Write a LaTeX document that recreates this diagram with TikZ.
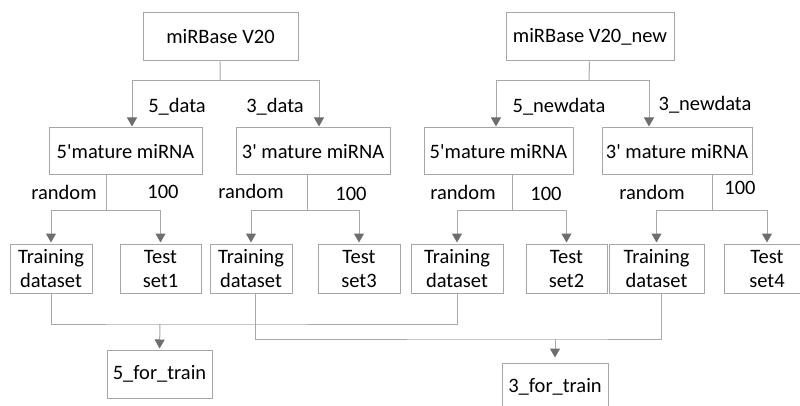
\documentclass[tikz,border=0pt]{standalone}
\usepackage{fontspec}
\setmainfont{Carlito}
\usepackage{tikz}
\usetikzlibrary{arrows.meta}
\definecolor{boxgray}{HTML}{A6A6A6}
\definecolor{linegray}{HTML}{A8A8A8}
\definecolor{headgray}{HTML}{6E6E6E}
\tikzset{
    box/.style={draw=boxgray, line width=1pt, inner sep=0pt, align=center,
      minimum height=48pt, font=\fontsize{20.5}{24}\selectfont},
    lbl/.style={inner sep=0pt, font=\fontsize{20.5}{24}\selectfont},
    line/.style={draw=linegray, line width=1pt},
    arr/.style={line, shorten >=1pt,
      -{Triangle[width=10pt,length=9pt,color=headgray,fill=headgray]}}
}
\begin{document}
\begin{tikzpicture}[x=1pt, y=-1pt]
    \useasboundingbox (0,0) rectangle (800,406);
    \clip (0,0) rectangle (800,406);

    \node[box, minimum width=155pt] (v20) at (220.5,37) {miRBase V20};
    \node[box, minimum width=168pt] (v20n) at (590,37) {miRBase V20\_new};

    \node[box, minimum width=153pt, minimum height=47pt] (m5) at (125.5,151.5) {5\textquotesingle mature miRNA};
    \node[box, minimum width=154pt, minimum height=47pt] (m3) at (313,151.5) {3\textquotesingle{} mature miRNA};
    \node[box, minimum width=149pt, minimum height=47pt] (m5n) at (498.5,151.5) {5\textquotesingle mature miRNA};
    \node[box, minimum width=150pt, minimum height=47pt] (m3n) at (677,151.5) {3\textquotesingle{} mature miRNA};

    \node[box, minimum width=82pt, minimum height=49pt] (tr1) at (51,268.5) {Training\\dataset};
    \node[box, minimum width=81pt, minimum height=49pt] (ts1) at (160.5,268.5) {Test\\set1};
    \node[box, minimum width=82pt, minimum height=49pt] (tr2) at (251,268.5) {Training\\dataset};
    \node[box, minimum width=82pt, minimum height=49pt] (ts3) at (359,268.5) {Test\\set3};
    \node[box, minimum width=92pt, minimum height=49pt] (tr3) at (457,268.5) {Training\\dataset};
    \node[box, minimum width=81pt, minimum height=49pt] (ts2) at (566.5,268.5) {Test\\set2};
    \node[box, minimum width=95pt, minimum height=49pt] (tr4) at (656.5,268.5) {Training\\dataset};
    \node[box, minimum width=86pt, minimum height=49pt] (ts4) at (767,268.5) {Test\\set4};

    \node[box, minimum width=105pt] (f5) at (159.5,374) {5\_for\_train};
    \node[box, minimum width=106pt] (f3) at (555,387) {3\_for\_train};

    \node[lbl] (d5) at (177,107) {5\_data};
    \node[lbl] (d3) at (275,107) {3\_data};
    \node[lbl] (d5n) at (559,107) {5\_newdata};
    \node[lbl] (d3n) at (705,105) {3\_newdata};

    \node[lbl] (rd1) at (64,192) {random};
    \node[lbl] (hd1) at (163,192) {100};
    \node[lbl] (rd2) at (251,191) {random};
    \node[lbl] (hd2) at (351,194) {100};
    \node[lbl] (rd3) at (463,192) {random};
    \node[lbl] (hd3) at (546,194) {100};
    \node[lbl] (rd4) at (652,192) {random};
    \node[lbl] (hd4) at (740,188) {100};

    \coordinate (a1) at (220,81);
    \coordinate (a2) at (589,81);
    \draw[line] (v20) -- (a1);
    \draw[arr] (a1) -| ([xshift=6.5pt]m5.north);
    \draw[arr] (a1) -| ([xshift=6pt]m3.north);
    \draw[line] (v20n) -- (a2);
    \draw[arr] (a2) -| ([xshift=-2.5pt]m5n.north);
    \draw[arr] (a2) -| ([xshift=-28pt]m3n.north);

    \coordinate (r1) at (106,210);
    \coordinate (r2) at (307,210);
    \coordinate (r3) at (512,210);
    \coordinate (r4) at (712,210);
    \draw[line] (r1 |- m5.south) -- (r1);
    \draw[arr] (r1) -| (tr1.north);
    \draw[arr] (r1) -| (ts1.north);
    \draw[line] (r2 |- m3.south) -- (r2);
    \draw[arr] (r2) -| (tr2.north);
    \draw[arr] (r2) -| (ts3.north);
    \draw[line] (r3 |- m5n.south) -- (r3);
    \draw[arr] (r3) -| (tr3.north);
    \draw[arr] (r3) -| (ts2.north);
    \draw[line] (r4 |- m3n.south) -- (r4);
    \draw[arr] (r4) -| (tr4.north);
    \draw[arr] (r4) -| (ts4.north);

    \coordinate (j5) at (160,324);
    \coordinate (j3) at (555,339);
    \draw[line] (tr1.south) |- (j5) -| (tr3.south);
    \draw[arr] (j5) -- (f5.north);
    \draw[line] ([xshift=4pt]tr2.south) |- (j3) -| ([xshift=4.5pt]tr4.south);
    \draw[arr, shorten >=5pt] (j3) -- (f3.north);
\end{tikzpicture}
\end{document}
